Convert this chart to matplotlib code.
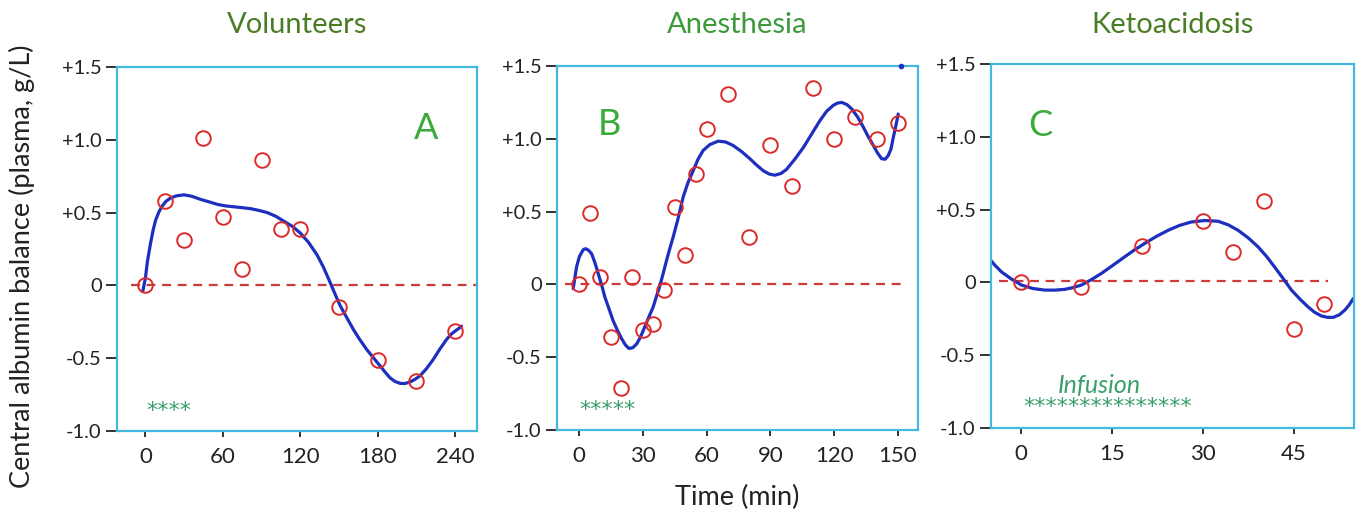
import matplotlib
matplotlib.use("Agg")
import matplotlib.pyplot as plt

# ---------------- data ----------------
titles = ["Volunteers", "Anesthesia", "Ketoacidosis"]
panel_letters = ["A", "B", "C"]

# Panel A (volunteers)
a_time = [0, 15, 30, 45, 60, 75, 90, 105, 120, 150, 180, 210, 240]
a_vals = [0.0, 0.58, 0.31, 1.01, 0.47, 0.11, 0.86, 0.39, 0.39, -0.15, -0.51, -0.66, -0.31]
a_fit_t = [-2, 0, 1.5, 4, 6, 8, 10.5, 13, 16, 19.5, 24, 30, 36, 43, 50, 56, 62, 68.5, 75, 81.5,
           88, 94.5, 101, 107.5, 114, 120, 126.5, 133, 138, 143.2, 147, 151, 156, 161, 166,
           171.5, 177, 182, 186, 189.5, 193.5, 197.5, 201, 205, 209, 213, 218, 223, 228,
           233.5, 237, 240, 243, 245]
a_fit_y = [-0.04, 0.05, 0.16, 0.29, 0.38, 0.45, 0.505, 0.545, 0.578, 0.60, 0.615, 0.622, 0.612,
           0.59, 0.572, 0.556, 0.546, 0.54, 0.534, 0.527, 0.515, 0.50, 0.475, 0.44, 0.405,
           0.36, 0.295, 0.21, 0.125, 0.02, -0.06, -0.14, -0.22, -0.30, -0.37, -0.44, -0.50,
           -0.554, -0.598, -0.634, -0.66, -0.673, -0.674, -0.664, -0.645, -0.62, -0.57, -0.51,
           -0.44, -0.37, -0.335, -0.314, -0.295, -0.28]

# Panel B (anesthesia)
b_time = [0, 5, 10, 15, 20, 25, 30, 35, 40, 45, 50, 55, 60, 70, 80, 90, 100, 110, 120, 130, 140, 150]
b_vals = [0.0, 0.49, 0.05, -0.36, -0.71, 0.05, -0.31, -0.27, -0.04, 0.53, 0.20, 0.76, 1.07,
          1.31, 0.325, 0.96, 0.675, 1.35, 1.0, 1.15, 1.0, 1.11]
b_fit_t = [-2.7, -1.1, 0.2, 1.3, 2.2, 3.1, 4.5, 6, 7.5, 9.1, 10.7, 12.2, 14.2, 16.1, 18.1, 20.1,
           21.8, 23.5, 25.3, 27.1, 29, 31, 33, 34.9, 36.5, 38.1, 39.7, 41.2, 42.8, 44.3, 46.4,
           49, 51.3, 53.7, 56, 58.4, 61.5, 65.5, 69, 72.5, 76.5, 80.4, 83.5, 86.7, 89.5, 92.1,
           95, 97.6, 101.5, 105.5, 109.5, 113.3, 116.5, 119.6, 121.5, 123.5, 126, 128.2, 131,
           133.7, 136, 138.4, 140.5, 142.3, 144, 145.4, 146.7, 147.8, 149, 150.1]
b_fit_y = [-0.03, 0.12, 0.19, 0.22, 0.24, 0.245, 0.235, 0.21, 0.15, 0.073, -0.005, -0.087,
           -0.17, -0.25, -0.315, -0.373, -0.415, -0.44, -0.435, -0.41, -0.36, -0.29, -0.22,
           -0.156, -0.08, -0.007, 0.08, 0.165, 0.25, 0.325, 0.44, 0.6, 0.7, 0.78, 0.86, 0.92,
           0.96, 0.984, 0.978, 0.954, 0.912, 0.863, 0.82, 0.78, 0.758, 0.75, 0.762, 0.79, 0.86,
           0.94, 1.035, 1.125, 1.19, 1.23, 1.245, 1.25, 1.235, 1.206, 1.15, 1.08, 1.015, 0.954,
           0.9, 0.863, 0.86, 0.885, 0.93, 1.01, 1.09, 1.17]
b_corner_t = [151.5]
b_corner_y = [1.5]

# Panel C (ketoacidosis)
c_time = [0, 10, 20, 30, 35, 40, 45, 50]
c_vals = [0.0, -0.035, 0.25, 0.42, 0.21, 0.56, -0.32, -0.15]
c_fit_t = [-5.4, -4.3, -3.2, -1.6, 0.1, 2, 4, 5.6, 7.2, 8.6, 10, 11.6, 13.3, 15.2, 17.1, 18.7,
           20.4, 22.3, 24.3, 26.2, 28.1, 30.3, 32.5, 34.2, 35.8, 37.5, 39.1, 40.5, 41.8, 43.2,
           44.6, 46, 47.3, 48.4, 49.5, 50.5, 51.5, 52.5, 53.4, 54.1, 54.8]
c_fit_y = [0.175, 0.12, 0.073, 0.025, -0.018, -0.042, -0.053, -0.053, -0.048, -0.036, -0.018,
           0.018, 0.062, 0.118, 0.175, 0.222, 0.267, 0.315, 0.358, 0.392, 0.415, 0.425, 0.42,
           0.395, 0.358, 0.305, 0.244, 0.178, 0.107, 0.028, -0.053, -0.115, -0.167, -0.205,
           -0.23, -0.24, -0.24, -0.222, -0.19, -0.155, -0.11]

xticks = [[0, 60, 120, 180, 240], [0, 30, 60, 90, 120, 150], [0, 15, 30, 45]]
xlims = [(-22, 257), (-10.3, 159.4), (-4.9, 54.9)]
yticks = [-1.0, -0.5, 0, 0.5, 1.0, 1.5]
ytick_labels = ["-1.0", "-0.5", "0", "+0.5", "+1.0", "+1.5"]
zero_spans = [(-11, 257), (-6.6, 152), (-3.5, 50.6)]
zero_levels = [0.0, 0.0, 0.011]
star_text = ["****", "*****", "***************"]
star_pos = [(18.0, -0.865), (13.6, -0.865), (14.3, -0.855)]
infusion_label = "Infusion"
infusion_pos = (12.9, -0.705)
letter_pos = [(0.86, 0.83), (0.145, 0.84), (0.135, 0.83)]

# ---------------- style ----------------
plt.rcParams['font.family'] = ['Lato', 'DejaVu Sans']
SPINE = "#45b8e2"
RED = "#dd2a2a"
BLUE = "#1c2fbf"
DASH = "#cc3b3b"
TITLE_COLS = ["#4a7d26", "#3d9a3a", "#4a7d26"]
LETTER_COL = "#3aaa3a"
STAR_COL = "#3a9f6a"
TXT = "#222222"

fig = plt.figure(figsize=(13.57, 5.14), dpi=100)
W, H = 1357, 514
boxes = [(117, 431, 360), (557, 430, 361), (991, 428, 363)]

data = [(a_time, a_vals, a_fit_t, a_fit_y), (b_time, b_vals, b_fit_t, b_fit_y),
        (c_time, c_vals, c_fit_t, c_fit_y)]

for i in range(3):
    left, bottom, width = boxes[i]
    ax = fig.add_axes([left / W, 1 - bottom / H, width / W, 364 / H])
    t, v, ft, fy = data[i]
    z0, z1 = zero_spans[i]
    ax.plot([z0, z1], [zero_levels[i], zero_levels[i]], ls=(0, (4, 3)), color=DASH, lw=1.6, zorder=1)
    ax.plot(ft, fy, color=BLUE, lw=2.3, zorder=2, solid_capstyle='round', solid_joinstyle='round')
    ax.plot(t, v, ls='none', marker='o', ms=10.5, mfc='none', mec=RED, mew=1.4, zorder=3)
    if i == 1:
        ax.plot(b_corner_t, b_corner_y, ls='none', marker='o', ms=3, color=BLUE, clip_on=False, zorder=4)
    ax.set_xlim(*xlims[i])
    ax.set_ylim(-1.0, 1.5)
    ax.set_xticks(xticks[i])
    ax.set_xticklabels([str(x) for x in xticks[i]])
    ax.set_yticks(yticks)
    ax.set_yticklabels(ytick_labels)
    for s in ax.spines.values():
        s.set_color(SPINE)
        s.set_linewidth(1.6)
    ax.tick_params(axis='y', direction='out', length=8, width=1.4, color='#333333',
                   labelsize=14.5, labelcolor=TXT, pad=3)
    ax.tick_params(axis='x', direction='out', length=4.5, width=1.4, color='#333333',
                   labelsize=16, labelcolor=TXT, pad=7)
    ax.text(letter_pos[i][0], letter_pos[i][1], panel_letters[i], transform=ax.transAxes,
            ha='center', va='center', fontsize=26, color=LETTER_COL)
    ax.text(star_pos[i][0], star_pos[i][1], star_text[i], ha='center', va='center',
            fontsize=16, color=STAR_COL, family='DejaVu Sans')
    if i == 2:
        ax.text(infusion_pos[0], infusion_pos[1], infusion_label, ha='center', va='center',
                fontsize=18, color=STAR_COL, style='italic')
    fig.text((left + width / 2) / W, 1 - 25 / H, titles[i], ha='center', va='center',
             fontsize=21, color=TITLE_COLS[i])

fig.text(22 / W, 1 - 266 / H, "Central albumin balance (plasma, g/L)", rotation=90,
         ha='center', va='center', fontsize=19.5, color=TXT)
fig.text(737 / W, 1 - 497 / H, "Time (min)", ha='center', va='center', fontsize=19.5, color=TXT)

fig.savefig("out.png", dpi=100, facecolor='white')
